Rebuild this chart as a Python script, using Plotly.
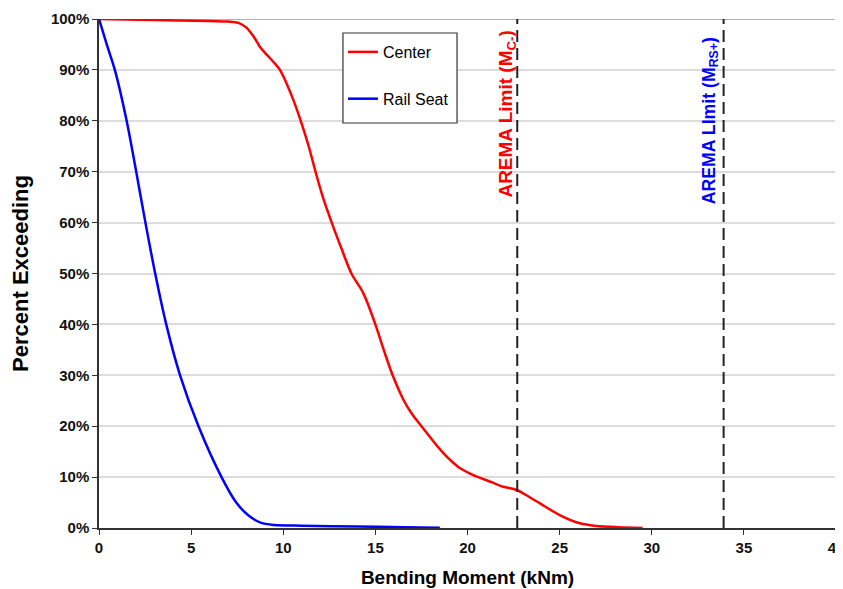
import plotly.graph_objects as go

# Center curve (Bending moment kNm, percent exceeding)
center_x = [0, 3, 6, 7.0, 7.6, 8.0, 8.4, 8.74, 9.1, 9.46, 9.82, 10.45, 10.95, 11.38, 11.75,
            12.15, 12.63, 13.15, 13.7, 14.35, 14.98, 15.5, 15.97, 16.55, 16.97, 17.5, 18.69, 19.5,
            20.14, 21.3, 21.94, 22.67, 23.4, 23.93, 25.0, 26.1, 27.0, 28.2, 29.5]
center_y = [100, 99.8, 99.6, 99.5, 99.2, 98.3, 96.5, 94.5, 93.0, 91.6, 90, 85, 80, 75, 70,
            65, 60, 55, 50, 46.1, 40.2, 34.5, 29.7, 25, 22.5, 20, 14.7, 12,
            10.7, 9.0, 8.1, 7.47, 6.0, 4.85, 2.55, 0.92, 0.4, 0.15, 0.0]

# Rail seat curve
rail_x = [0, 0.42, 0.86, 1.5, 2.02, 2.52, 3.05, 3.65, 4.4, 5.4, 6.65, 7.45, 8.1, 8.8, 9.5,
          11, 14, 16.5, 18.5]
rail_y = [100, 95, 90, 80, 70, 60, 50, 40, 30, 20, 10, 5, 2.5, 1.0, 0.6,
          0.45, 0.3, 0.15, 0.05]

limit_x = [22.7, 33.9]
limit_labels = ["AREMA Limit (M<sub>C-</sub>)", "AREMA LImit (M<sub>RS+</sub>)"]
limit_colors = ["#ff0000", "#0000ff"]
limit_sizes = [19, 17.7]

x_ticks = [0, 5, 10, 15, 20, 25, 30, 35, 40]
y_ticks = [0, 10, 20, 30, 40, 50, 60, 70, 80, 90, 100]

FONT = "Liberation Sans, Arial, sans-serif"

fig = go.Figure()
fig.add_trace(go.Scatter(x=center_x, y=center_y, mode="lines", name="Center",
                         line=dict(color="#ff0000", width=2.5, shape="spline", smoothing=0.9),
                         legendgroup="a"))
fig.add_trace(go.Scatter(x=rail_x, y=rail_y, mode="lines", name="Rail Seat",
                         line=dict(color="#0000ff", width=2.5, shape="spline", smoothing=0.8),
                         legendgroup="b"))

for xv in limit_x:
    fig.add_shape(type="line", x0=xv, x1=xv, y0=0, y1=100, xref="x", yref="y",
                  line=dict(color="#222222", width=2, dash="12px,6px"))

fig.add_shape(type="line", x0=0, x1=40, y0=100, y1=100, xref="x", yref="y",
              line=dict(color="#999999", width=1.5), layer="below")

# legend frame
fig.add_shape(type="rect", xref="paper", yref="paper", x0=0.331, x1=0.4858, y0=0.7957, y1=0.9725,
              line=dict(color="#333333", width=1.2), fillcolor="white", layer="above")

ann_pos = [(22.14, 98.2), (33.16, 96.9)]
for (ax, ay), lab, col, sz in zip(ann_pos, limit_labels, limit_colors, limit_sizes):
    fig.add_annotation(x=ax, y=ay, xref="x", yref="y", text="<b>" + lab + "</b>",
                       textangle=-90, showarrow=False, xanchor="center", yanchor="top",
                       font=dict(family=FONT, size=sz, color=col))

fig.update_layout(
    width=835, height=581,
    margin=dict(l=91, r=7, t=11, b=61),
    paper_bgcolor="white", plot_bgcolor="white",
    font=dict(family=FONT, color="black"),
    legend=dict(x=0.331, y=0.9686, xanchor="left", yanchor="top",
                borderwidth=0, bgcolor="rgba(0,0,0,0)",
                font=dict(family=FONT, size=16, color="black"),
                traceorder="grouped", tracegroupgap=23, itemwidth=30),
    showlegend=True,
)
fig.update_xaxes(range=[0, 40], tickvals=x_ticks, ticktext=[f"<b>{v}</b>" for v in x_ticks],
                 showgrid=False, zeroline=False, automargin=False, ticklabeloverflow="allow",
                 showline=True, linecolor="#333333", linewidth=1.5,
                 ticks="outside", ticklen=5, tickcolor="#333333",
                 tickfont=dict(family=FONT, size=15, color="#111111"),
                 title=dict(text="<b>Bending Moment (kNm)</b>", font=dict(family=FONT, size=19), standoff=16))
fig.update_yaxes(range=[0, 100], tickvals=y_ticks, ticktext=[f"<b>{v}%</b>" for v in y_ticks],
                 showgrid=True, gridcolor="#dcdcdc", gridwidth=1.5, zeroline=False, automargin=False,
                 showline=True, linecolor="#333333", linewidth=1.5,
                 ticks="outside", ticklen=5, tickcolor="#333333",
                 tickfont=dict(family=FONT, size=15, color="#111111"),
                 title=dict(text="<b>Percent Exceeding</b>", font=dict(family=FONT, size=22), standoff=18))

fig.write_html("out.html")
